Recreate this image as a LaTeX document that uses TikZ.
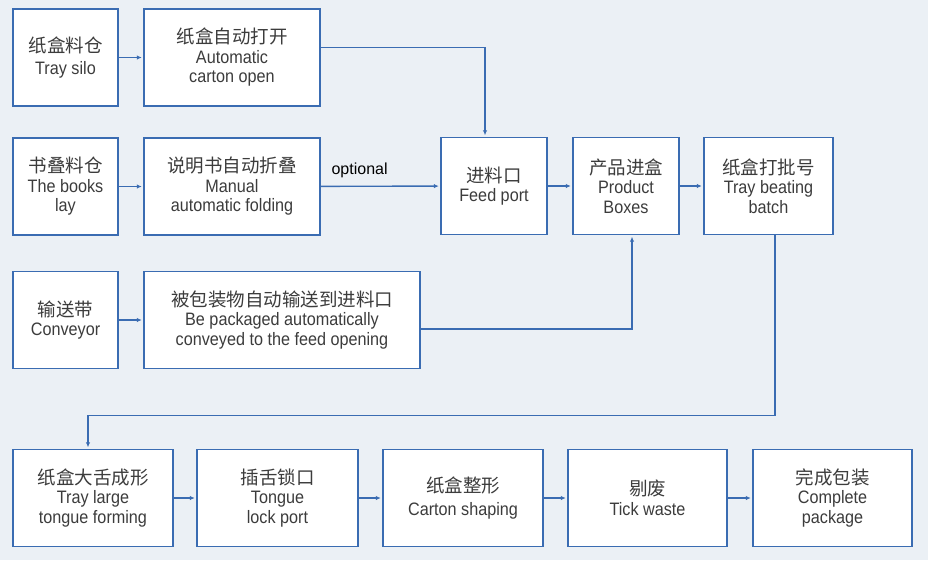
\documentclass[tikz,border=0pt]{standalone}
\usepackage{fontspec}
\setmainfont[FakeStretch=0.9]{Liberation Sans}
\newfontfamily\zh{Noto Sans CJK SC}
\newfontfamily\plain{Liberation Sans}
\usepackage{xcolor}
\usepackage{tikz}
\usetikzlibrary{arrows.meta}
\definecolor{bgcol}{RGB}{235,240,245}
\definecolor{linecol}{RGB}{58,108,178}
\definecolor{txtcol}{RGB}{60,60,60}
\newcommand{\zhline}[1]{{\zh\fontsize{18.5}{21}\selectfont #1}}

\begin{document}
\begin{tikzpicture}[x=1pt,y=-1pt,
  box/.style={draw=linecol,line width=1.4pt,fill=white,text=txtcol,align=center,
    minimum height=97pt,inner sep=2pt,font=\fontsize{18}{19.5}\selectfont},
  flow/.style={draw=linecol,line width=1.4pt,-{Latex[length=5pt,width=4.5pt]},shorten >=1.5pt}]
\fill[bgcol] (0,0) rectangle (928,560);

\node[box,minimum width=105pt] (silo) at (65.5,57.5) {\zhline{纸盒料仓}\\[3pt]Tray silo};
\node[box,minimum width=176pt] (cartonopen) at (232,57.5) {\zhline{纸盒自动打开}\\Automatic\\carton open};
\node[box,minimum width=105pt] (books) at (65.5,186.5) {\zhline{书叠料仓}\\The books\\lay};
\node[box,minimum width=176pt] (folding) at (232,186.5) {\zhline{说明书自动折叠}\\Manual\\automatic folding};
\node[box,minimum width=105pt] (conveyor) at (65.5,320) {\zhline{输送带}\\Conveyor};
\node[box,minimum width=276pt] (packaged) at (282,320) {\zhline{被包装物自动输送到进料口}\\Be packaged automatically\\conveyed to the feed opening};

\node[box,minimum width=106pt] (feed) at (494,186) {\zhline{进料口}\\Feed port};
\node[box,minimum width=106pt] (product) at (626,186) {\zhline{产品进盒}\\Product\\Boxes};
\node[box,minimum width=129pt] (batch) at (768.5,186) {\zhline{纸盒打批号}\\Tray beating\\batch};

\node[box,minimum width=160pt] (tongue) at (93,498) {\zhline{纸盒大舌成形}\\Tray large\\tongue forming};
\node[box,minimum width=161pt] (lockport) at (277.5,498) {\zhline{插舌锁口}\\Tongue\\lock port};
\node[box,minimum width=160pt] (shaping) at (463,498) {\zhline{纸盒整形}\\[4pt]Carton shaping};
\node[box,minimum width=159pt] (waste) at (647.5,498) {\zhline{剔废}\\Tick waste};
\node[box,minimum width=159pt] (complete) at (832.5,498) {\zhline{完成包装}\\Complete\\package};

\draw[flow] (silo) -- (cartonopen);
\draw[flow] ([yshift=10pt]cartonopen.east) -| ([xshift=-9pt]feed.north);
\draw[flow] (books) -- (folding);
\draw[flow] (folding) -- node[pos=0.06,above right,yshift=5pt,text=black,font=\plain\fontsize{16}{18}\selectfont,inner sep=3pt] {optional} (feed);
\draw[flow] (conveyor) -- (packaged);
\draw[flow] ([yshift=-9pt]packaged.east) -| ([xshift=6pt]product.south);
\draw[flow] (feed) -- (product);
\draw[flow] (product) -- (batch);
\draw[flow] ([xshift=6.5pt]batch.south) -- ++(0,-180pt) -| ([xshift=-5pt]tongue.north);
\draw[flow] (tongue) -- (lockport);
\draw[flow] (lockport) -- (shaping);
\draw[flow] (shaping) -- (waste);
\draw[flow] (waste) -- (complete);
\end{tikzpicture}
\end{document}
